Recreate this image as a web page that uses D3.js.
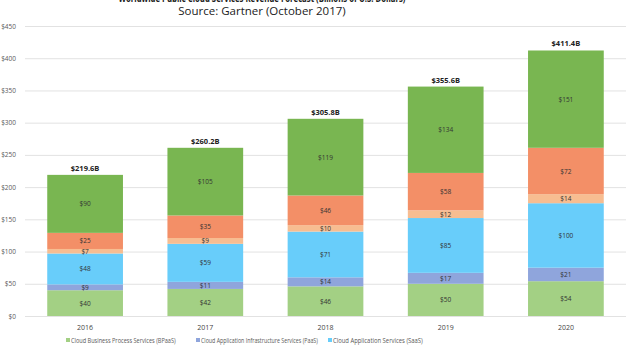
<html>
<head>
    <script src="https://d3js.org/d3.v7.min.js"></script>
    <style>
        body { margin: 0; background: #fff; }
        text { font-family: "Open Sans", "DejaVu Sans", sans-serif; }
    </style>
</head>
<body>
    <svg id="chart"></svg>
    <script>
        var years = ["2016", "2017", "2018", "2019", "2020"];
        var seriesNames = [
            "Cloud Business Process Services (BPaaS)",
            "Cloud Application Infrastructure Services (PaaS)",
            "Cloud Application Services (SaaS)",
            "Cloud Management and Security Services",
            "Cloud System Infrastructure Services (IaaS)",
            "Cloud Advertising"
        ];
        var bpaas = [40, 42, 46, 50, 54];
        var paas = [9, 11, 14, 17, 21];
        var saas = [48, 59, 71, 85, 100];
        var mgmt = [7, 9, 10, 12, 14];
        var iaas = [25, 35, 46, 58, 72];
        var advertising = [90, 105, 119, 134, 151];
        var totals = ["$219.6B", "$260.2B", "$305.8B", "$355.6B", "$411.4B"];
        var yTicks = [0, 50, 100, 150, 200, 250, 300, 350, 400, 450];
        var colors = ["#a3d084", "#8fa5dc", "#68cdfa", "#f7bd91", "#f38f67", "#79b651"];

        var W = 633, H = 350;
        var svg = d3.select("#chart").attr("width", W).attr("height", H);

        var allSeries = [bpaas, paas, saas, mgmt, iaas, advertising];
        var rows = years.map(function(y, i) {
            var r = { year: y };
            allSeries.forEach(function(s, k) { r["s" + k] = s[i]; });
            return r;
        });
        var keys = allSeries.map(function(s, k) { return "s" + k; });
        var stacked = d3.stack().keys(keys)(rows);

        var x = d3.scaleBand().domain(years).range([25, 626]).paddingInner(0.37).paddingOuter(0.185);
        var y = d3.scaleLinear().domain([0, 450]).range([316, 26]);

        // title (top line is cut off by the frame, as in the source image)
        svg.append("text").attr("x", 262).attr("y", 1.5)
            .attr("text-anchor", "middle").attr("font-size", 11).attr("font-weight", "bold").attr("fill", "#222")
            .attr("textLength", 287).attr("lengthAdjust", "spacingAndGlyphs")
            .text("Worldwide Public Cloud Services Revenue Forecast (Billions of U.S. Dollars)");
        svg.append("text").attr("x", 262).attr("y", 15)
            .attr("text-anchor", "middle").attr("font-size", 11.5).attr("fill", "#222")
            .text("Source: Gartner (October 2017)");

        // gridlines
        svg.append("g").selectAll("line").data(yTicks).enter().append("line")
            .attr("x1", 25).attr("x2", 626)
            .attr("y1", function(d) { return y(d) + 0.5; })
            .attr("y2", function(d) { return y(d) + 0.5; })
            .attr("stroke", "#e2e2e2").attr("stroke-width", 1);

        var yAxis = svg.append("g").attr("transform", "translate(19,0)")
            .call(d3.axisLeft(y).tickValues(yTicks).tickSize(0).tickFormat(function(d) { return "$" + d; }));
        yAxis.select(".domain").remove();
        yAxis.selectAll("text").attr("font-size", 6.5).attr("fill", "#595959")
            .attr("font-family", "'Open Sans', sans-serif");

        var groups = svg.append("g").selectAll("g").data(stacked).enter().append("g")
            .attr("fill", function(d, k) { return colors[k]; });
        groups.selectAll("rect").data(function(d) { return d; }).enter().append("rect")
            .attr("x", function(d) { return x(d.data.year); })
            .attr("width", x.bandwidth())
            .attr("y", function(d) { return y(d[1]); })
            .attr("height", function(d) { return y(d[0]) - y(d[1]); });

        // segment labels
        var labelG = svg.append("g");
        stacked.forEach(function(layer) {
            layer.forEach(function(d) {
                labelG.append("text")
                    .attr("x", x(d.data.year) + x.bandwidth() / 2)
                    .attr("y", (y(d[0]) + y(d[1])) / 2 + 2.5)
                    .attr("text-anchor", "middle").attr("font-size", 6.5).attr("fill", "#333")
                    .text("$" + (d[1] - d[0]));
            });
        });

        // totals
        svg.append("g").selectAll("text").data(stacked[stacked.length - 1]).enter().append("text")
            .attr("x", function(d) { return x(d.data.year) + x.bandwidth() / 2; })
            .attr("y", function(d) { return y(d[1]) - 4; })
            .attr("text-anchor", "middle").attr("font-size", 7.5).attr("font-weight", "bold").attr("fill", "#222")
            .text(function(d, i) { return totals[i]; });

        // x axis labels
        var xAxis = svg.append("g").attr("transform", "translate(0,322)")
            .call(d3.axisBottom(x).tickSize(0));
        xAxis.select(".domain").remove();
        xAxis.selectAll("text").attr("font-size", 7).attr("fill", "#444")
            .attr("font-family", "'Open Sans', sans-serif");

        // legend (only the first three entries fit); squeeze text horizontally
        var legendX = [66, 196, 328];
        var legendW = [105, 117, 90];
        var legend = svg.append("g").selectAll("g").data(seriesNames.slice(0, 3)).enter().append("g")
            .attr("transform", function(d, i) { return "translate(" + legendX[i] + ",342)"; });
        legend.append("rect").attr("x", 0).attr("y", -4).attr("width", 4).attr("height", 4)
            .attr("fill", function(d, i) { return colors[i]; });
        legend.append("text").attr("y", 0.5).attr("font-size", 6.5).attr("fill", "#595959")
            .text(function(d) { return d; })
            .attr("transform", function(d, i) {
                var len = this.getComputedTextLength();
                var k = Math.min(1, legendW[i] / len);
                return "translate(5,0) scale(" + k + ",1)";
            });
    </script>
</body>
</html>
